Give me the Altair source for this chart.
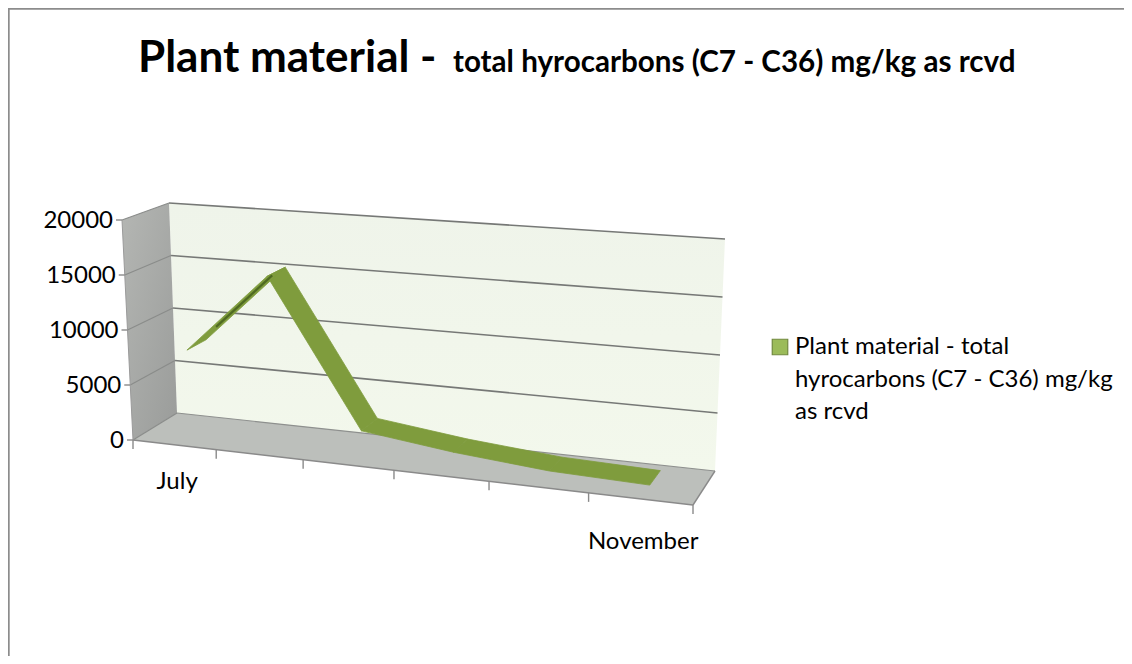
import numpy as np
import pandas as pd
import altair as alt

# ---- data ----
categories = ["July", "", "", "", "", "November"]
series_values = [7700, 15100, 2000, 1000, 300, 60]
y_ticks = [0, 5000, 10000, 15000, 20000]
series_name = "Plant material - total hyrocarbons (C7 - C36) mg/kg as rcvd"
legend_lines = ["Plant material - total", "hyrocarbons (C7 - C36) mg/kg", "as rcvd"]

YMAX = 20000.0
N = len(categories)

# ---- the oblique view of the chart box (image pixels) ----
def homography(src, dst):
    A, b = [], []
    for (u, v), (x, y) in zip(src, dst):
        A.append([u, v, 1, 0, 0, 0, -u * x, -v * x]); b.append(x)
        A.append([0, 0, 0, u, v, 1, -u * y, -v * y]); b.append(y)
    h = np.linalg.solve(np.array(A, float), np.array(b, float))
    return np.append(h, 1).reshape(3, 3)

unit = [(0, 0), (1, 0), (1, 1), (0, 1)]
FLOOR = homography(unit, [(133, 440), (693, 505), (715, 471), (177, 413)])
CEIL = homography(unit, [(122, 220), (706, 262), (725, 239), (169, 203)])

def apply(H, u, v):
    p = H @ np.array([u, v, 1.0])
    return p[0] / p[2], p[1] / p[2]

def project(cat, depth, value):
    """category position (0..N), depth (0 front..1 back), value -> picture x, y"""
    u = cat / N
    fx, fy = apply(FLOOR, u, depth)
    tx, ty = apply(CEIL, u, depth)
    t = value / YMAX
    return fx + (tx - fx) * t, fy + (ty - fy) * t

def poly(corners):
    pts = [project(*c) for c in corners]
    pts.append(pts[0])
    return pd.DataFrame({"x": [p[0] for p in pts], "y": [p[1] for p in pts], "o": range(len(pts))})

X = alt.X("x:Q", scale=alt.Scale(domain=[8, 1124], nice=False, zero=False), axis=None)
Y = alt.Y("y:Q", scale=alt.Scale(domain=[656, 8], nice=False, zero=False), axis=None)

def shape(df, fill, stroke=None, sw=0):
    kw = {"fill": fill, "strokeWidth": sw, "stroke": stroke or fill}
    return alt.Chart(df).mark_line(interpolate="linear", clip=False, **kw).encode(x=X, y=Y, order="o:Q")

def seg(a, b, color, w):
    pa, pb = project(*a), project(*b)
    df = pd.DataFrame({"x": [pa[0], pb[0]], "y": [pa[1], pb[1]], "o": [0, 1]})
    return alt.Chart(df).mark_line(color=color, strokeWidth=w).encode(x=X, y=Y, order="o:Q")

layers = []

# frame (top and left edges only)
frame = pd.DataFrame({"x": [8.8, 8.8, 1124], "y": [656, 8.8, 8.8], "o": [0, 1, 2]})
layers.append(alt.Chart(frame).mark_line(color="#8c8c8c", strokeWidth=1.8).encode(x=X, y=Y, order="o:Q"))

# back wall, side wall, floor
wall_fill = alt.Gradient(gradient="linear", x1=0, y1=0, x2=0, y2=1,
                         stops=[alt.GradientStop(color="#eff4ea", offset=0),
                                alt.GradientStop(color="#f3f8ec", offset=1)])
side_fill = alt.Gradient(gradient="linear", x1=0, y1=0, x2=1, y2=1,
                         stops=[alt.GradientStop(color="#b4b6b3", offset=0),
                                alt.GradientStop(color="#9a9c9a", offset=1)])
layers.append(shape(poly([(0, 1, 0), (N, 1, 0), (N, 1, YMAX), (0, 1, YMAX)]), wall_fill))
layers.append(shape(poly([(0, 0, 0), (0, 1, 0), (0, 1, YMAX), (0, 0, YMAX)]), side_fill))
layers.append(shape(poly([(0, 0, 0), (N, 0, 0), (N, 1, 0), (0, 1, 0)]), "#bcbfbb"))

# gridlines along the walls
for v in y_ticks:
    if v > 0:
        layers.append(seg((0, 1, v), (N, 1, v), "#767876", 1.6))
    layers.append(seg((0, 0, v), (0, 1, v), "#8a8c8a", 1.2))
layers.append(seg((0, 1, 0), (N, 1, 0), "#8e908e", 1.2))

# axes
layers.append(seg((0, 0, 0), (N, 0, 0), "#8a8a8a", 1.6))
layers.append(seg((N, 0, 0), (N, 1, 0), "#8a8a8a", 1.4))
layers.append(seg((0, 0, 0), (0, 0, YMAX), "#9a9a9a", 1.0))

tick_rows = []
for i in range(N + 1):
    x, y = project(i, 0, 0)
    tick_rows.append({"x": x, "y": y, "x2": x, "y2": y + 9})
for v in y_ticks:
    x, y = project(0, 0, v)
    tick_rows.append({"x": x - 6, "y": y, "x2": x, "y2": y})
layers.append(alt.Chart(pd.DataFrame(tick_rows)).mark_rule(color="#8a8a8a", strokeWidth=1.4).encode(
    x=X, y=Y, x2="x2:Q", y2="y2:Q"))

# the ribbon of the series
D0, D1 = 0.38, 0.82
ribbon_light = "#7f9c3d"
ribbon_dark = "#4f6a22"
for i in range(N - 1, 0, -1):
    a, b = series_values[i - 1], series_values[i]
    layers.append(shape(poly([(i - 0.5, D0, a), (i + 0.5, D0, b), (i + 0.5, D1, b), (i - 0.5, D1, a)]),
                        ribbon_light, ribbon_light, 0.8))
# shaded streak on the rising stretch, seen nearly edge-on
layers.append(seg((0.75, 0.6, series_values[0] + 0.25 * (series_values[1] - series_values[0])),
                  (1.45, 0.6, series_values[1] - 0.05 * (series_values[1] - series_values[0])), ribbon_dark, 2.2))

# text
font = "Lato"
def label(rows, size, weight="normal", align="left", color="#000000"):
    df = pd.DataFrame(rows)
    return alt.Chart(df).mark_text(font=font, fontSize=size, fontWeight=weight, align=align,
                                   baseline="alphabetic", color=color).encode(x=X, y=Y, text="t:N")

for v in y_ticks:
    x, y = project(0, 0, v)
    layers.append(label([{"x": x - 9, "y": y + 8, "t": str(v)}], 24, align="right"))

cat_drop = {"July": 44, "November": 50}
for i, c in enumerate(categories):
    if c:
        x, y = project(i + 0.5, 0, 0)
        layers.append(label([{"x": x + 3, "y": y + cat_drop[c], "t": c}], 24, align="center"))

layers.append(label([{"x": 138, "y": 72, "t": "Plant material -"}], 44, "bold"))
layers.append(label([{"x": 453, "y": 72, "t": "total hyrocarbons (C7 - C36) mg/kg as rcvd"}], 29.6, "bold"))

leg = pd.DataFrame({"x": [780], "y": [347], "name": [series_name]})
layers.append(alt.Chart(leg).mark_square(size=240, fill="#9bbb59", stroke="#71893f", strokeWidth=1.2, opacity=1).encode(x=X, y=Y))
for j, line in enumerate(legend_lines):
    layers.append(label([{"x": 795, "y": 354 + j * 32.5, "t": line}], 24))

chart = alt.layer(*layers).properties(
    width=1116, height=648, padding=0, autosize=alt.AutoSizeParams(type="none"), background="#ffffff"
).configure_view(stroke=None)

chart.save("out.html", embed_options={"renderer": "svg", "actions": False})
